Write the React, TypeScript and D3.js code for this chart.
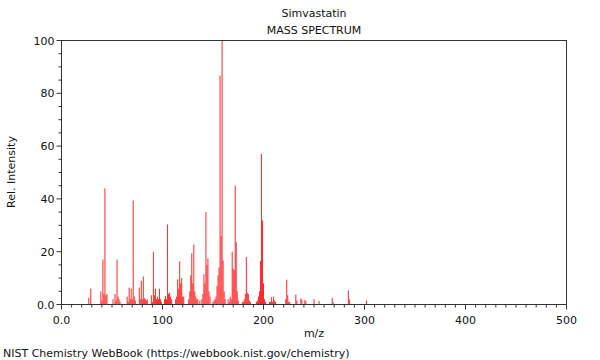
import React from "react";
import * as d3 from "d3";

const title = "Simvastatin";
const subtitle = "MASS SPECTRUM";
const xLabel = "m/z";
const yLabel = "Rel. Intensity";
const footer = "NIST Chemistry WebBook (https://webbook.nist.gov/chemistry)";

const mzValues = [
  27, 29, 39, 40, 41, 42, 43, 44, 45, 51, 53, 54, 55, 56, 57, 58, 65, 66, 67, 68, 69, 70, 71, 72, 73,
  77, 78, 79, 80, 81, 82, 83, 84, 85, 89, 90, 91, 92, 93, 94, 95, 96, 97, 98, 99, 102, 103, 104, 105,
  106, 107, 108, 109, 113, 114, 115, 116, 117, 118, 119, 120, 121, 126, 127, 128, 129, 130, 131, 132,
  133, 134, 135, 137, 139, 140, 141, 142, 143, 144, 145, 146, 147, 150, 151, 152, 153, 154, 155, 156,
  157, 158, 159, 160, 161, 162, 165, 166, 167, 168, 169, 170, 171, 172, 173, 174, 175, 179, 180, 181,
  182, 183, 184, 185, 186, 187, 193, 194, 195, 196, 197, 198, 199, 200, 201, 202, 206, 207, 208, 209,
  210, 211, 212, 222, 223, 224, 225, 226, 232, 233, 237, 238, 241, 242, 250, 255, 268, 269, 284, 285, 302,
];
const intensities = [
  2.5, 6, 5, 1.5, 17, 4, 44, 3.5, 4, 2, 4, 1.5, 17, 3, 2, 1, 3, 1, 6.4, 2, 6, 2, 39.4, 3, 1.5,
  6.4, 2, 9, 2, 10.6, 2.5, 2, 1.5, 2, 3.5, 1, 20, 3.5, 6, 2, 3, 2, 6, 2, 1, 2, 3.2, 2, 30.3,
  4, 4.5, 3, 2, 2, 3, 9.5, 6, 16.3, 8, 10, 3, 3, 2, 5, 11, 19.4, 8, 22.7, 5,
  3, 2, 2, 1.5, 2, 4, 11.4, 8, 35, 15, 17.4, 5, 3, 1, 1.5, 2, 3, 7, 11, 14,
  86.7, 26, 100, 16.7, 5, 2, 2, 1, 3, 2, 20, 13.6, 13, 45, 23.6, 5, 1.5, 1, 1, 2,
  4, 18, 4.5, 4, 1.5, 1, 1, 1.5, 3, 5, 16.5, 57, 31.8, 8, 2, 1, 1, 1, 2.8, 1,
  3, 1.5, 1, 2, 9.4, 3.5, 1, 1, 3.8, 1.5, 2.3, 1.8, 1.7, 1.3, 2.1, 1.3, 2.5, 0.8, 5.3, 2, 1.5,
];

const xTickValues = [0, 100, 200, 300, 400, 500];
const xTickLabels = ["0.0", "100", "200", "300", "400", "500"];
const yTickValues = [0, 20, 40, 60, 80, 100];
const yTickLabels = ["0.0", "20", "40", "60", "80", "100"];

const W = 600;
const H = 360;
const left = 61.5;
const right = 566.5;
const top = 40.5;
const bottom = 304.5;

export default function App() {
  const x = d3.scaleLinear().domain([0, 500]).range([left, right]);
  const y = d3.scaleLinear().domain([0, 100]).range([bottom, top]);
  const xMinor = d3.range(0, 501, 10);
  const yMinor = d3.range(0, 101, 5);
  const font = "DejaVu Sans, sans-serif";
  const axisColor = "#333";
  return (
    <svg
      width={W}
      height={H}
      style={{ position: "absolute", left: 0, top: 0, background: "#fff" }}
      fontFamily={font}
    >
      <rect x={0} y={0} width={W} height={H} fill="#fff" />
      <text x={314} y={17} fontSize={11} textAnchor="middle" fill="#111">{title}</text>
      <text x={314} y={34} fontSize={11} textAnchor="middle" fill="#111">{subtitle}</text>
      {mzValues.map((m, i) => (
        <line
          key={i}
          x1={x(m)}
          x2={x(m)}
          y1={y(0)}
          y2={y(intensities[i])}
          stroke="#ff2828"
          strokeWidth={1}
        />
      ))}
      <rect x={left} y={top} width={right - left} height={bottom - top} fill="none" stroke={axisColor} strokeWidth={1} />
      {xMinor.map((v) => (
        <line key={"xm" + v} x1={x(v)} x2={x(v)} y1={bottom} y2={bottom + (v % 100 === 0 ? 5 : 3)} stroke={axisColor} />
      ))}
      {yMinor.map((v) => (
        <line key={"ym" + v} x1={left} x2={left - (v % 20 === 0 ? 5 : 3)} y1={y(v)} y2={y(v)} stroke={axisColor} />
      ))}
      {xTickValues.map((v, i) => (
        <text key={"xt" + v} x={x(v)} y={bottom + 19} fontSize={11} textAnchor="middle" fill="#111">
          {xTickLabels[i]}
        </text>
      ))}
      {yTickValues.map((v, i) => (
        <text key={"yt" + v} x={left - 7} y={y(v) + 4} fontSize={11} textAnchor="end" fill="#111">
          {yTickLabels[i]}
        </text>
      ))}
      <text x={314} y={337} fontSize={11} textAnchor="middle" fill="#111">{xLabel}</text>
      <text transform={`translate(15,172) rotate(-90)`} fontSize={11} textAnchor="middle" fill="#111">{yLabel}</text>
      <text x={3} y={357} fontSize={11} fill="#111">{footer}</text>
    </svg>
  );
}
